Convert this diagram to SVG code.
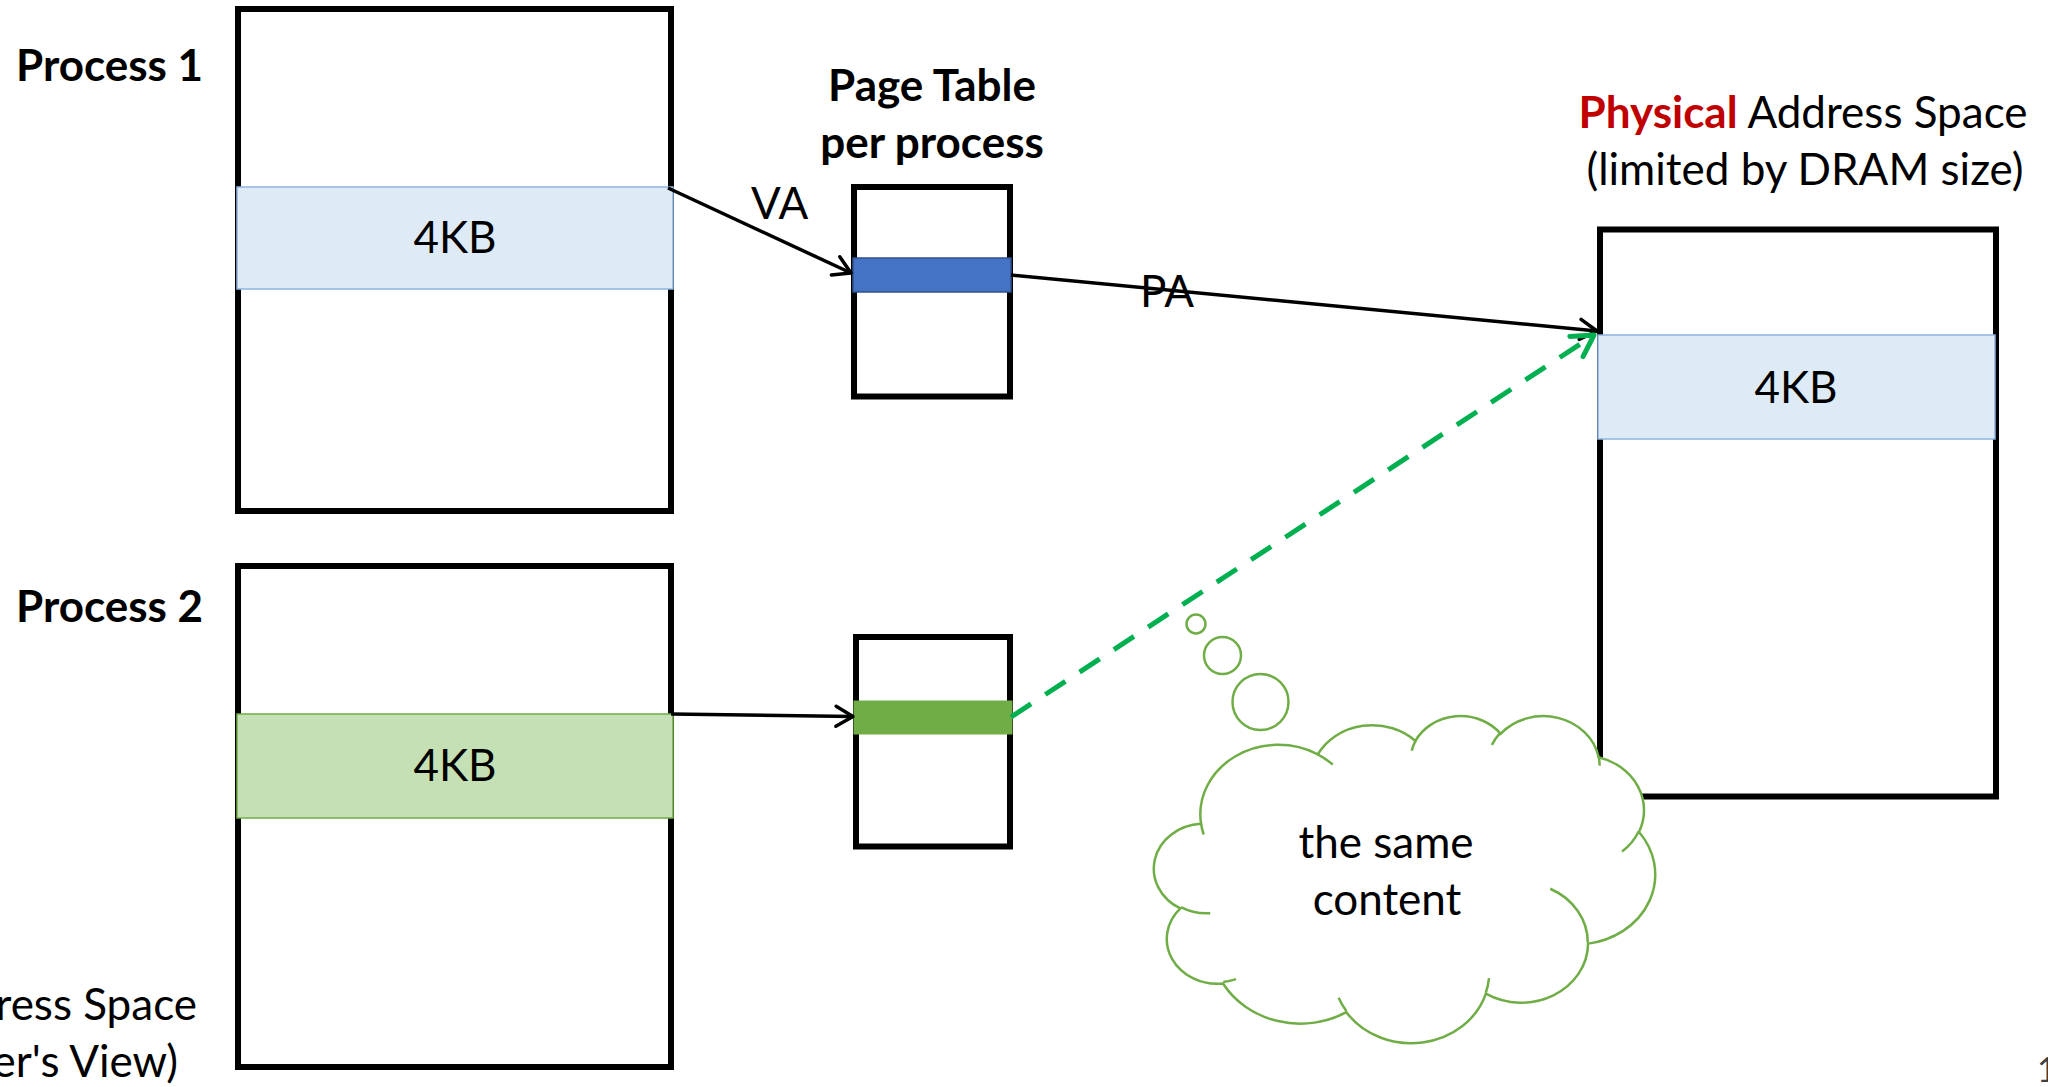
<svg xmlns="http://www.w3.org/2000/svg" width="2048" height="1087" viewBox="0 0 2048 1087">
  <style>
    .t { font-family: Lato, "Open Sans", "Liberation Sans", sans-serif; font-size: 44px; fill: #000; }
    .b { font-weight: 700; }
    .mid { text-anchor: middle; }
    .end { text-anchor: end; }
    .box { fill: #fff; stroke: #000; stroke-width: 6; }
    .page-blue { fill: #DEEBF7; stroke: #8DB4E2; stroke-width: 1.5; }
    .page-green { fill: #C5E0B4; stroke: #70AD47; stroke-width: 1.5; }
    .pte-blue { fill: #4472C4; stroke: #2F528F; stroke-width: 1.5; }
    .pte-green { fill: #70AD47; stroke: #70AD47; stroke-width: 1; }
    .conn { fill: none; stroke: #000; stroke-width: 3.5; }
    .share { fill: none; stroke: #00B050; stroke-width: 5; stroke-dasharray: 24 17; }
    .cloud { fill: #fff; stroke: #70AD47; stroke-width: 2.5; }
  </style>
  <defs>
    <marker id="arrow-black" markerUnits="userSpaceOnUse" orient="auto" overflow="visible" markerWidth="1" markerHeight="1" refX="0" refY="0">
      <path d="M-17,-10 L0,0 L-17,10" fill="none" stroke="#000" stroke-width="3.5" stroke-linecap="round" stroke-linejoin="round"/>
    </marker>
    <marker id="arrow-green" markerUnits="userSpaceOnUse" orient="auto" overflow="visible" markerWidth="1" markerHeight="1" refX="0" refY="0">
      <path d="M-21,-12 L0,0 L-21,12" fill="none" stroke="#00B050" stroke-width="5" stroke-linecap="round" stroke-linejoin="round"/>
    </marker>
  </defs>

  <rect width="2048" height="1087" fill="#fff"/>

  <!-- Virtual address space of process 1 -->
  <g id="process1">
    <text class="t b" x="16" y="81">Process 1</text>
    <rect class="box" x="238" y="9" width="433" height="502"/>
    <rect class="page-blue" x="237" y="187" width="436" height="102"/>
    <text class="t mid" x="455" y="253">4KB</text>
  </g>

  <!-- Virtual address space of process 2 -->
  <g id="process2">
    <text class="t b" x="16" y="622">Process 2</text>
    <rect class="box" x="238" y="566" width="433" height="501"/>
    <rect class="page-green" x="237" y="714" width="436" height="104"/>
    <text class="t mid" x="455" y="781">4KB</text>
  </g>

  <!-- Partly visible caption at the left edge -->
  <g id="virtual-caption">
    <text class="t end" x="197" y="1020">ress Space</text>
    <text class="t end" x="178" y="1077">er's View)</text>
  </g>

  <!-- Page tables -->
  <g id="page-table-title">
    <text class="t b mid" x="932" y="101">Page Table</text>
    <text class="t b mid" x="932" y="158">per process</text>
  </g>
  <g id="page-table1">
    <rect class="box" x="854" y="187" width="156" height="209.5"/>
    <rect class="pte-blue" x="853" y="258" width="158" height="34"/>
  </g>
  <g id="page-table2">
    <rect class="box" x="856" y="637" width="154" height="209.5"/>
    <rect class="pte-green" x="854" y="701" width="158" height="33"/>
  </g>

  <!-- Physical memory -->
  <g id="physical">
    <text class="t mid" x="1803" y="128"><tspan class="b" fill="#C00000">Physical</tspan> Address Space</text>
    <text class="t mid" x="1805" y="185">(limited by DRAM size)</text>
    <rect class="box" x="1600" y="229.5" width="396" height="567"/>
    <rect class="page-blue" x="1598" y="335" width="397" height="104"/>
    <text class="t mid" x="1796" y="403">4KB</text>
  </g>

  <!-- Translations -->
  <g id="connectors">
    <line class="conn" x1="668" y1="188" x2="851" y2="273" marker-end="url(#arrow-black)"/>
    <text class="t" x="751" y="219">VA</text>
    <line class="conn" x1="1011" y1="275" x2="1597" y2="331" marker-end="url(#arrow-black)"/>
    <text class="t" x="1140" y="307">PA</text>
    <line class="conn" x1="671" y1="714" x2="853" y2="716.5" marker-end="url(#arrow-black)"/>
    <line class="share" x1="1011" y1="717" x2="1594" y2="335" marker-end="url(#arrow-green)"/>
  </g>

  <!-- Thought cloud -->
  <g id="cloud">
    <circle class="cloud" cx="1196" cy="624" r="9.5"/>
    <ellipse class="cloud" cx="1222.5" cy="655.5" rx="18.5" ry="18.5"/>
    <ellipse class="cloud" cx="1260.5" cy="702" rx="28" ry="28"/>
    <g transform="translate(1156 715) scale(0.011551 0.0075694)">
      <path class="cloud" vector-effect="non-scaling-stroke" d="M3900 14370 A6753 9190 0 0 1 14005.3 5202.1 A5333 7267 0 0 1 22456.1 3431.5 A4365 5945 0 0 1 29833.3 2480.2 A4857 6595 0 0 1 38317.8 5576.4 A5333 7273 0 0 1 41818 15460.4 A6775 9220 0 0 1 37404 30203.8 A5785 7867 0 0 1 28555.7 36814 A6752 9215 0 0 1 16480.5 39265.7 A7720 10543 0 0 1 5803.2 35470.7 A4360 5918 0 0 1 2110.9 25550.2 A4345 5945 0 0 1 3900 14370 Z"/>
      <path class="cloud" vector-effect="non-scaling-stroke" style="fill:none" d="M4693 26177 A4345 5945 0 0 1 2159.7 25380 M6928 34899 A4360 5918 0 0 1 5819.3 35280.7 M16478 39090 A6752 9215 0 0 1 15809.7 37348.7 M28827 34751 A6752 9215 0 0 1 28560.4 36660.3 M34129 22954 A5785 7867 0 0 1 37380.1 30089.3 M41798 15354 A5333 7273 0 0 1 40349.1 18030.8 M38324 5426 A4857 6595 0 0 1 38400.4 6689.6 M29078 3952 A4857 6595 0 0 1 29820.4 2339.1 M22141 4720 A4365 5945 0 0 1 22500.2 3330.4 M14000 5192 A6753 9190 0 0 1 15299.8 6540.3 M4127 15789 A6753 9190 0 0 1 3900.1 14370.4"/>
    </g>
    <text class="t mid" x="1386" y="858">the same</text>
    <text class="t mid" x="1387" y="915">content</text>
  </g>

  <!-- Slide number, cut at the right edge -->
  <text x="2037" y="1082" style="font-family: Lato, sans-serif; font-size: 34px; fill: #404040;">1</text>
</svg>
